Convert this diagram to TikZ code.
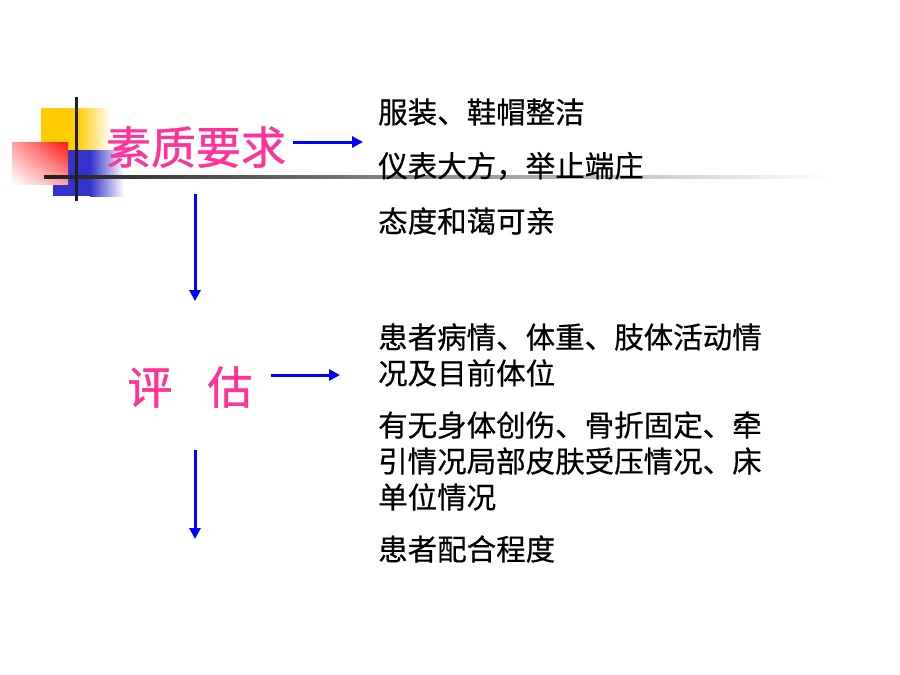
\documentclass[tikz,border=0pt]{standalone}
\usepackage{fontspec}
\usepackage{xcolor}
\usepackage{tikz}
\usetikzlibrary{positioning,arrows.meta,shadings}
\newfontfamily\cjk[FakeBold=0.5]{Noto Sans CJK SC}
\newfontfamily\cjktitel[FakeBold=0.9]{Noto Sans CJK SC}
\definecolor{titelrosa}{RGB}{255,51,153}
\definecolor{pfeilblau}{RGB}{0,0,255}
\definecolor{gelbfeld}{RGB}{255,204,0}
\definecolor{blaufeld}{RGB}{51,51,204}
\definecolor{rotfeld}{RGB}{255,20,20}

\tikzset{
	titel/.style={inner sep=0pt, text=titelrosa, font=\cjktitel\fontsize{45}{50}\selectfont},
	punkt/.style={anchor=west, inner sep=0pt, align=left, font=\cjk\fontsize{29.5}{36}\selectfont},
	pfeil/.style={-{Triangle[length=11pt,width=11pt]}, line width=3pt, draw=pfeilblau}
}

\begin{document}
\begin{tikzpicture}[x=1pt,y=-1pt]
	\useasboundingbox[fill=white] (0,0) rectangle (900,675);
	% Verzierung oben links
	\fill[gelbfeld] (41,108) rectangle (77,150);
	\shade[left color=gelbfeld, right color=white] (77,108) rectangle (111,150);
	\fill[blaufeld] (53,150) rectangle (90,196);
	\shade[left color=blaufeld, right color=white] (90,150) rectangle (124,196);
	\shade[upper right=rotfeld, lower left=white, upper left=rotfeld!40!white, lower right=rotfeld!40!white] (12,142) rectangle (68,184);
	\shade[left color=black!88, right color=white] (44,175.5) rectangle (830,178.5);
	\fill[black!88] (74.5,97) rectangle (77.5,201);
	
	% Titel
	\node[titel] (suzhi) at (196,147) {素质要求};
	\node[titel] (pinggu) at (190,387) {评\hspace{35pt}估};
	
	% Punkte
	\node[punkt] (fuzhuang) at (378,112) {服装、鞋帽整洁};
	\node[punkt] (yibiao) at (378,166) {仪表大方，举止端庄};
	\node[punkt] (taidu) at (378,221) {态度和蔼可亲};
	\node[punkt] (bingqing) at (378,355) {患者病情、体重、肢体活动情\\况及目前体位};
	\node[punkt] (chuangshang) at (378,461) {有无身体创伤、骨折固定、牵\\引情况局部皮肤受压情况、床\\单位情况};
	\node[punkt] (peihe) at (378,549) {患者配合程度};
	
	% Pfeile
	\coordinate (achse) at (195,0);
	\coordinate (ziel1) at (363,142);
	\coordinate (ziel2) at (340,375);
	\coordinate (ende) at (195,539);
	\draw[pfeil, shorten <=7pt] (suzhi.east |- ziel1) -- (ziel1);
	\draw[pfeil, shorten <=26pt, shorten >=65pt] (suzhi.south -| achse) -- (pinggu.north -| achse);
	\draw[pfeil, shorten <=18pt] (pinggu.east |- ziel2) -- (ziel2);
	\draw[pfeil, shorten <=42pt] (pinggu.south -| achse) -- (ende);
\end{tikzpicture}
\end{document}
